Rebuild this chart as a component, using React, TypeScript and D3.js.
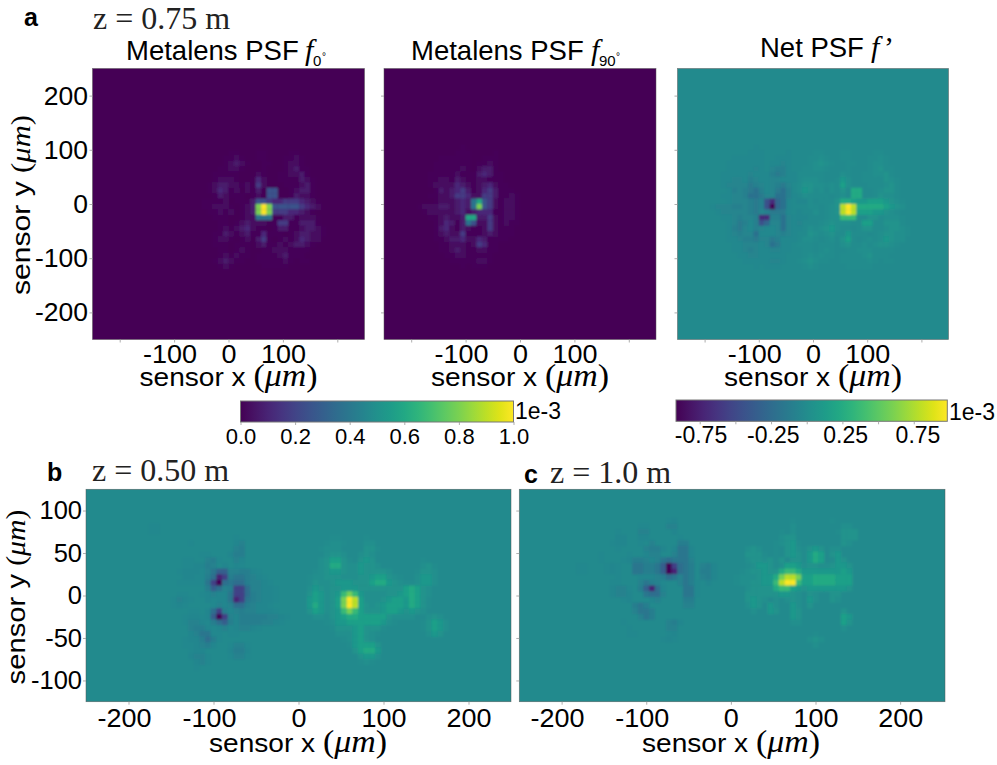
import React, { useEffect, useRef } from 'react';
import * as d3 from 'd3';

// one character per PSF cell (1e-3 units, normalised)
const levels: Record<string, number> = {
  '.': 0, '0': 0, '1': 0.015, '2': 0.035, '3': 0.07, '4': 0.11, '5': 0.17, '6': 0.25, '7': 0.38, '8': 0.6, '9': 0.8, X: 1,
  a: -0.015, b: -0.035, c: -0.07, d: -0.11, e: -0.17, f: -0.25, g: -0.38, h: -0.6, i: -0.8, j: -1,
};

// z = 0.75 m, 10 um cells, first cell at x = -50, y = 100
const f0Rows = [
  '000001100011000011000000',
  '000011210011000112100000',
  '000012321001100122100000',
  '000112210001000123110000',
  '001111100021001122310000',
  '001222100142001111321000',
  '012332212152000111231000',
  '012431202130660012331000',
  '001321110120660013221000',
  '111120111366544555432100',
  '11222101239X966666543200',
  '01121201239X955544321000',
  '001110012277711331222100',
  '000110123222115511333100',
  '000121234211013311233210',
  '001132123114111012332210',
  '001221012035101212432200',
  '001110111023112123321000',
  '000110121001122211110000',
  '000121211011112311100000',
  '001232110011111210110000',
  '000121000001111100000000',
];

// z = 0.75 m, 10 um cells, first cell at x = -190, y = 120
const f90Rows = [
  '000000000000000000000000',
  '000000001000000000000000',
  '000000011100001000000000',
  '000011111100111000000000',
  '000111111101121000000000',
  '000111112102331000000000',
  '001111121113431100000000',
  '001122132112211100000000',
  '001222243212342110000000',
  '000132345312453111000000',
  '001122355422553112100000',
  '000122234378652122100000',
  '122233234379652122100000',
  '012222234234441122100000',
  '001123223883352122100000',
  '000124313762252121100000',
  '000134213211252111000000',
  '000123225111232111000000',
  '000112334224311110000000',
  '000011222125411000000000',
  '000011232112211000000000',
  '000001122111110000000000',
  '000000111112210000000000',
  '000000001011100000000000',
];

// z = 0.50 m, 500/75 um cells, first cell at column 8, row 5
const netBLeft = [
  '..............................',
  '...aa.........................',
  '...aa.........................',
  '..................a...........',
  '..........a.......bc..........',
  '..................cd..........',
  '............aa...bdd..........',
  '.........aa..cda..cb..........',
  '.........aabbdc.b.ba..........',
  '........abbbaceggccddba.......',
  '.........bbaadfihdeedcba......',
  '........aaaaaehjfeffdccba.....',
  '.............dgfcdhhfccbba....',
  '........aa..abcbbehhfdcbba....',
  '.......acba..babbeihedcbba....',
  '.......aba....acbcffdcbba.....',
  '..........aa.bfhdbcdccbbba....',
  '.........abbabgjhcbdddddccba..',
  '.........accbadfgdbddddccba...',
  '..........cddbabcabccba.......',
  '..........bceeaa.aa...........',
  '.........abbdfda..............',
  '.........aabcdb..acca.........',
  '..........abb....bddb.........',
  '..........bcca...acca.........',
  '...........bca................',
  '...........a..................',
  '..............................',
];
const netBRight = [
  '..............................',
  '..............................',
  '..............................',
  '.....11....1..................',
  '....1221...22.................',
  '...1222....331................',
  '....2332..232.................',
  '...235531.343........1........',
  '...23663224332.......231......',
  '..12344322433332....1332......',
  '.12233322233455321..2442......',
  '.13223444333566432112442......',
  '.2432334443333333356532.......',
  '.3542347874222233456532.......',
  '.4542358X95222345546531.......',
  '.4642358X95323455546531.......',
  '.354234787533345543432........',
  '..221345665555532222..232.....',
  '....1244555555421....13542....',
  '.....1333453331......13542....',
  '......22245321........243.....',
  '.......124532.................',
  '........145553................',
  '.........35664................',
  '..........3442................',
  '..........121.................',
  '..............................',
  '..............................',
];

// z = 1.0 m, 500/75 um cells, first cell at column 9, row 5
const netCLeft = [
  '.................ab..........',
  '............aa...cc..........',
  '........a...cc....b..........',
  '........bb..bb.....a.........',
  '.......abb..a.c....dd........',
  '........a....cddb.beeb.......',
  '.....a....a..bcc..ceeb.......',
  '.....a...abddcbcefeeec.......',
  '.aa...aba..eeddegjhfed.cdb...',
  '.aa...aba..eeddegjifed.ddb...',
  '........a...bbbcdfeced.cdb...',
  '.......aa...cedca..ceda.b....',
  '.......bcca.dgifb...eea......',
  '.......bccb..effc...eea......',
  '.........ab...bc....dd.......',
  '...........ded......cc.......',
  '...........ceed..............',
  '............ced..............',
  '.........a.......cdb.........',
  '..........a......cc..........',
  '..........aa.....ab..........',
  '................aba..........',
  '.............................',
];
const netCRight = [
  '..........1......1...........',
  '..........2........22........',
  '........1.2.......1333.......',
  '........233........333.......',
  '.......12341.......32........',
  '..232..1.3421343.22..........',
  '..3331.1.3431465.34..........',
  '..2332313.331465.143.........',
  '..1244312554233223443........',
  '.12334336776444444454........',
  '122234468998556666555........',
  '122334479XX7556666555........',
  '..2333367754344444443........',
  '..3333334432.32..33..........',
  '..3432.2.232.42..32..........',
  '..243.42..42.3...............',
  '...2..43..43.......3.........',
  '..........43.......54........',
  '..........22.......53........',
  '...................2.........',
  '..............1..............',
  '.............232.............',
  '..............2..............',
];

const colorbarTicks = [0, 0.2, 0.4, 0.6, 0.8, 1];
const netBarTicks = [-0.75, -0.5, -0.25, 0, 0.25, 0.5, 0.75];
const netBarLabels = [-0.75, -0.25, 0.25, 0.75];
const topYTicks = [-200, -100, 0, 100, 200];
const topXTicks = [-200, -100, 0, 100, 200];
const topXLabels = [-100, 0, 100];
const lowerYTicks = [-100, -50, 0, 50, 100];
const lowerXTicks = [-200, -100, 0, 100, 200];

const sans = "'Liberation Sans', Arial, sans-serif";
const serif = "'Liberation Serif', 'Times New Roman', serif";

type Cell = { x: number; y: number; v: number };

const decode = (rows: string[], x0: number, y0: number, size: number): Cell[] => {
  const cells: Cell[] = [];
  rows.forEach((row, r) => {
    row.split('').forEach((ch, c) => {
      const v = levels[ch] ?? 0;
      if (v !== 0) cells.push({ x: x0 + c * size, y: y0 - r * size, v });
    });
  });
  return cells;
};

const join = (left: string[], right: string[], n: number) => left.map((row, i) => row.padEnd(n, '.') + (right[i] ?? ''));

const App = () => {
  const svgRef = useRef<SVGSVGElement>(null);

  useEffect(() => {
    const svg = d3.select(svgRef.current);
    svg.selectAll('*').remove();

    const defs = svg.append('defs');
    defs.append('filter').attr('id', 'soft').attr('x', '-5%').attr('y', '-5%').attr('width', '110%').attr('height', '110%')
      .append('feGaussianBlur').attr('stdDeviation', 1);
    const grad = defs.append('linearGradient').attr('id', 'viridisBar');
    d3.range(0, 1.001, 0.05).forEach(t => {
      grad.append('stop').attr('offset', t).attr('stop-color', d3.interpolateViridis(t));
    });

    const heat = (
      id: string,
      x: d3.ScaleLinear<number, number>,
      y: d3.ScaleLinear<number, number>,
      cells: Cell[],
      size: number,
      color: (v: number) => string,
    ) => {
      const [x0, x1] = x.range();
      const [y1, y0] = y.range();
      defs.append('clipPath').attr('id', id).append('rect')
        .attr('x', x0).attr('y', y0).attr('width', x1 - x0).attr('height', y1 - y0);
      const g = svg.append('g').attr('clip-path', `url(#${id})`).append('g').attr('filter', 'url(#soft)');
      g.append('rect').attr('x', x0 - 10).attr('y', y0 - 10).attr('width', x1 - x0 + 20).attr('height', y1 - y0 + 20).attr('fill', color(0));
      g.selectAll('rect.cell').data(cells).join('rect').attr('class', 'cell')
        .attr('x', d => x(d.x))
        .attr('y', d => y(d.y))
        .attr('width', d => x(d.x + size) - x(d.x) + 0.3)
        .attr('height', d => y(d.y - size) - y(d.y) + 0.3)
        .attr('fill', d => color(d.v));
      svg.append('rect').attr('x', x0).attr('y', y0).attr('width', x1 - x0).attr('height', y1 - y0)
        .attr('fill', 'none').attr('stroke', '#555').attr('stroke-width', 0.7).attr('stroke-opacity', 0.7);
    };

    const styleAxis = (g: d3.Selection<SVGGElement, unknown, null, undefined>) => {
      g.select('.domain').remove();
      g.selectAll('.tick line').attr('stroke', '#999').attr('stroke-width', 0.8);
    };

    const xAxis = (
      x: d3.ScaleLinear<number, number>,
      yPos: number,
      ticks: number[],
      labels: number[],
      baseline: number,
    ) => {
      const g = svg.append('g').attr('transform', `translate(0,${yPos})`)
        .call(d3.axisBottom(x).tickValues(ticks).tickSize(3).tickFormat(d => String(d)));
      styleAxis(g);
      g.selectAll<SVGTextElement, number>('.tick text')
        .filter(d => !labels.includes(d)).remove();
      g.selectAll<SVGTextElement, number>('.tick text')
        .attr('font-family', sans).attr('font-size', 27).attr('fill', '#000')
        .attr('y', 0).attr('dy', 0)
        .attr('transform', d => `translate(${d < 0 ? -4.5 : 0},${baseline}) scale(1,0.93)`);
    };

    const yAxis = (y: d3.ScaleLinear<number, number>, xPos: number, ticks: number[], showLabels: boolean, size: number, gap: number) => {
      const g = svg.append('g').attr('transform', `translate(${xPos},0)`)
        .call(d3.axisLeft(y).tickValues(ticks).tickSize(3).tickPadding(gap).tickFormat(d => String(d)));
      styleAxis(g);
      if (!showLabels) g.selectAll('.tick text').remove();
      g.selectAll('.tick text').attr('font-family', sans).attr('font-size', size).attr('fill', '#000');
    };

    const axisTitle = (label: string, tx: number, ty: number, length: number, rotate = false) => {
      const unitSize = rotate ? 27 : 32;
      const t = svg.append('text')
        .attr('transform', `translate(${tx},${ty})${rotate ? ' rotate(-90)' : ''}`)
        .attr('text-anchor', 'middle').attr('font-family', sans).attr('font-size', 26.5)
        .attr('textLength', length).attr('lengthAdjust', 'spacingAndGlyphs');
      t.append('tspan').text(`${label} `);
      t.append('tspan').attr('font-family', serif).attr('font-size', unitSize).text('(');
      t.append('tspan').attr('font-family', serif).attr('font-size', unitSize).attr('font-style', 'italic').text('μm');
      t.append('tspan').attr('font-family', serif).attr('font-size', unitSize).text(')');
    };

    const note = (txt: string, tx: number, ty: number, size: number, family: string, extra: Record<string, string> = {}) => {
      const t = svg.append('text').attr('x', tx).attr('y', ty).attr('font-size', size).attr('font-family', family).text(txt);
      Object.entries(extra).forEach(([k, v]) => t.attr(k, v));
      return t;
    };

    // top row
    const topY = d3.scaleLinear().domain([-250, 250]).range([339.5, 68.5]);
    const x0deg = d3.scaleLinear().domain([-250, 250]).range([92.5, 364.5]);
    const x90deg = d3.scaleLinear().domain([-250, 250]).range([384, 656]);
    const xNet = d3.scaleLinear().domain([-250, 250]).range([677.5, 948.5]);

    const f0Cells = decode(f0Rows, -50, 100, 10);
    const f90Cells = decode(f90Rows, -190, 120, 10);
    const netMap = new Map<string, Cell>();
    f0Cells.forEach(c => netMap.set(`${c.x},${c.y}`, { ...c }));
    f90Cells.forEach(c => {
      const key = `${c.x},${c.y}`;
      const hit = netMap.get(key);
      if (hit) hit.v -= c.v;
      else netMap.set(key, { ...c, v: -c.v });
    });

    const viridis = (v: number) => d3.interpolateViridis(v);
    const netTop = d3.scaleLinear().domain([-0.8, 0, 1]).range([0, 0.475, 1]).clamp(true);
    const netLow = d3.scaleLinear().domain([-1, 0, 1]).range([0, 0.475, 1]);

    heat('pa', x0deg, topY, f0Cells, 10, viridis);
    heat('pb', x90deg, topY, f90Cells, 10, viridis);
    heat('pc', xNet, topY, Array.from(netMap.values()), 10, v => viridis(netTop(v)));

    [x0deg, x90deg, xNet].forEach(x => {
      xAxis(x, 339.5, topXTicks, topXLabels, 23.5);
      yAxis(topY, x.range()[0], topYTicks, x === x0deg, 26.5, 1.5);
      axisTitle('sensor x', (x.range()[0] + x.range()[1]) / 2, 386, 178);
    });
    axisTitle('sensor y', 30, 205, 180, true);

    // lower row
    const cellSize = 500 / 75;
    const lowY = d3.scaleLinear().domain([-125, 125]).range([701.7, 489.3]);
    const xB = d3.scaleLinear().domain([-250, 250]).range([86, 511]);
    const xC = d3.scaleLinear().domain([-250, 253]).range([519.3, 945]);
    const bCells = decode(join(netBLeft, netBRight, 30), -250 + 8 * cellSize, 125 - 5 * cellSize, cellSize);
    const cCells = decode(join(netCLeft, netCRight, 29), -250 + 9 * cellSize, 125 - 5 * cellSize, cellSize);
    heat('pd', xB, lowY, bCells, cellSize, v => viridis(netLow(v)));
    heat('pe', xC, lowY, cCells, cellSize, v => viridis(netLow(v)));
    xAxis(xB, 701.7, lowerXTicks, lowerXTicks, 25.5);
    xAxis(xC, 701.7, lowerXTicks, lowerXTicks, 25.5);
    yAxis(lowY, 86, lowerYTicks, true, 25.5, 1);
    yAxis(lowY, 519.3, lowerYTicks, false, 25.5, 1);
    axisTitle('sensor x', 298, 752, 178);
    axisTitle('sensor x', 731, 752, 178);
    axisTitle('sensor y', 25, 597, 175, true);

    // colorbars
    const bar = (x: d3.ScaleLinear<number, number>, top: number, h: number) => {
      const [a, b] = x.range();
      svg.append('rect').attr('x', a).attr('y', top).attr('width', b - a).attr('height', h)
        .attr('fill', 'url(#viridisBar)').attr('stroke', '#777').attr('stroke-width', 1);
    };
    const barA = d3.scaleLinear().domain([0, 1]).range([240.5, 513.5]);
    bar(barA, 401, 21);
    const gA = svg.append('g').attr('transform', 'translate(0,422)')
      .call(d3.axisBottom(barA).tickValues(colorbarTicks).tickSize(3).tickFormat(d3.format('.1f')));
    styleAxis(gA);
    gA.selectAll('.tick text').attr('font-family', sans).attr('font-size', 22).attr('fill', '#000').attr('y', 22).attr('dy', 0);

    const barNet = d3.scaleLinear().domain([-0.916, 0.985]).range([676, 947.3]);
    bar(barNet, 400, 21.3);
    const gN = svg.append('g').attr('transform', 'translate(0,421.3)')
      .call(d3.axisBottom(barNet).tickValues(netBarTicks).tickSize(3).tickFormat(() => ''));
    styleAxis(gN);
    gN.selectAll('.tick text').remove();
    const labelX = d3.scaleLinear().domain([-0.75, 0.75]).range([701, 918]);
    netBarLabels.forEach(v => {
      note(String(v), labelX(v), 443, 23, sans, { 'text-anchor': 'middle' });
    });
    note('1e-3', 515, 419, 23, sans);
    note('1e-3', 949, 420, 23, sans);

    // titles
    note('Metalens PSF', 126, 60, 27.5, sans);
    note('f', 305, 60, 30, serif, { 'font-style': 'italic' });
    note('0', 313, 66, 15, sans);
    note('°', 322, 60, 10, sans);
    note('Metalens PSF', 411, 60, 27.5, sans);
    note('f', 591, 60, 30, serif, { 'font-style': 'italic' });
    note('90', 599, 66, 15, sans);
    note('°', 616, 60, 10, sans);
    note('Net PSF', 760, 57, 27.5, sans);
    note('f', 871, 57, 30, serif, { 'font-style': 'italic' });
    note('’', 884, 57, 30, serif);

    // panel letters
    note('a', 24, 26, 25, sans, { 'font-weight': 'bold' });
    note('z = 0.75 m', 93, 29, 32, serif, { fill: '#222' });
    note('b', 47, 481, 25, sans, { 'font-weight': 'bold' });
    note('z = 0.50 m', 92, 481, 32, serif, { fill: '#222' });
    note('c', 524, 483, 25, sans, { 'font-weight': 'bold' });
    note('z = 1.0 m', 550, 483, 32, serif, { fill: '#222' });
  }, []);

  return <svg ref={svgRef} width={997} height={765} style={{ position: 'absolute', left: 0, top: 0, display: 'block' }} />;
};

export default App;
